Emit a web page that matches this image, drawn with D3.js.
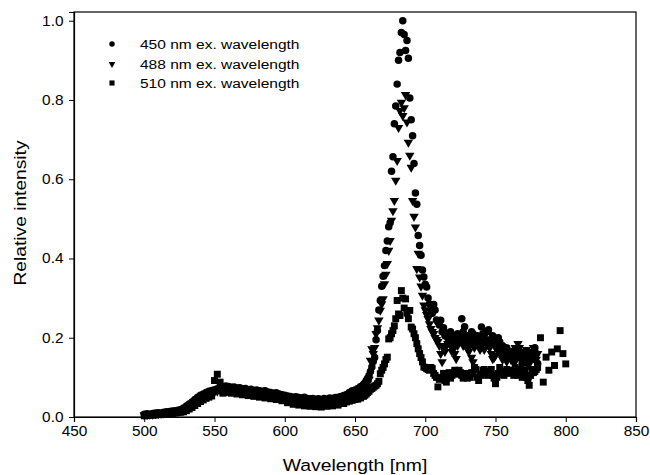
<!DOCTYPE html>
<html><head><meta charset="utf-8">
<script src="https://cdn.jsdelivr.net/npm/d3@7"></script>
<style>body{margin:0;background:#fff}svg{display:block}</style>
</head><body>
<svg id="c" width="650" height="475"></svg>
<script>
const wl = [
500,502,504,506,508,510,512,514,516,518,
520,522,524,526,528,530,532,534,536,538,
540,542,544,546,548,550,552,554,556,558,
560,562,564,566,568,570,572,574,576,578,
580,582,584,586,588,590,592,594,596,598,
600,602,604,606,608,610,612,614,616,618,
620,622,624,626,628,630,632,634,636,638,
640,642,644,646,648,650,
652,654,656,
657,658,659,660,661,662,663,664,665,666,
667,668,669,670,671,672,673,674,675,676,
677,678,679,680,681,682,683,684,685,686,
687,688,689,690,691,692,693,694,695,696,
697,698,699,700,701,702,703,704,705,706,
707,708,709,710,711,712,713,714,715,716,
717,718,719,720,721,722,723,724,725,726,
727,728,729,730,731,732,733,734,735,736,
737,738,739,740,741,742,743,744,745,746,
747,748,749,750,751,752,753,754,755,756,
757,758,759,760,761,762,763,764,765,766,
767,768,769,770,771,772,773,774,775,776,
777,778,779,780,
782,784,786,788,790,792,794,796,798,800];

const ex450 = [
0.007,0.008,0.007,0.009,0.010,0.011,0.010,0.012,0.013,0.014,
0.015,0.016,0.017,0.019,0.023,0.028,0.033,0.038,0.044,0.050,
0.055,0.058,0.062,0.065,0.067,0.069,0.071,0.074,0.076,0.078,
0.077,0.075,0.076,0.073,0.074,0.071,0.072,0.069,0.070,0.067,
0.068,0.066,0.065,0.066,0.063,0.062,0.060,0.061,0.058,0.056,
0.055,0.053,0.052,0.050,0.051,0.049,0.048,0.050,0.047,0.046,
0.047,0.045,0.046,0.044,0.047,0.045,0.048,0.047,0.049,0.050,
0.052,0.054,0.057,0.062,0.066,0.068,
0.072,0.077,0.082,
0.086,0.092,0.098,0.105,0.115,0.126,0.140,0.150,0.195,0.218,
0.270,0.294,0.330,0.355,0.382,0.420,0.444,0.480,0.490,0.620,
0.657,0.740,0.785,0.840,0.900,0.920,0.970,1.000,0.965,0.925,
0.950,0.905,0.805,0.750,0.710,0.640,0.565,0.537,0.458,0.433,
0.408,0.371,0.353,0.335,0.328,0.300,0.285,0.270,0.262,0.284,
0.270,0.245,0.240,0.232,0.244,0.215,0.225,0.205,0.212,0.200,
0.190,0.215,0.200,0.205,0.185,0.198,0.210,0.195,0.205,0.248,
0.215,0.228,0.200,0.205,0.185,0.195,0.215,0.210,0.200,0.190,
0.205,0.200,0.185,0.227,0.210,0.205,0.190,0.215,0.220,0.195,
0.185,0.205,0.200,0.185,0.175,0.200,0.190,0.170,0.180,0.165,
0.160,0.175,0.155,0.150,0.165,0.160,0.140,0.145,0.150,0.170,
0.155,0.150,0.135,0.140,0.160,0.155,0.145,0.160,0.150,0.145,
0.165,0.175,0.160,0.135,
null,null,null,null,null,null,null,null,null,null];

const ex488 = [
0.005,0.006,0.007,0.007,0.008,0.009,0.009,0.010,0.011,0.012,
0.013,0.013,0.015,0.016,0.019,0.022,0.027,0.031,0.036,0.041,
0.047,0.051,0.054,0.058,0.061,0.063,0.065,0.067,0.066,0.068,
0.067,0.068,0.066,0.065,0.066,0.063,0.064,0.062,0.061,0.060,
0.059,0.058,0.058,0.056,0.055,0.054,0.052,0.051,0.049,0.048,
0.046,0.045,0.043,0.042,0.041,0.040,0.041,0.039,0.038,0.038,
0.037,0.038,0.036,0.037,0.036,0.038,0.037,0.039,0.040,0.039,
0.041,0.043,0.044,0.046,0.048,0.051,
0.055,0.058,0.062,
0.068,0.075,0.085,0.095,0.143,0.172,0.160,0.175,0.210,0.225,
0.244,0.269,0.285,0.298,0.336,0.360,0.387,0.420,0.445,0.496,
0.520,0.546,0.597,0.647,0.730,0.773,0.794,0.760,0.780,0.813,
0.744,0.693,0.660,0.630,0.546,0.506,0.479,0.374,0.413,0.353,
0.330,0.307,0.282,0.270,0.258,0.248,0.235,0.223,0.215,0.210,
0.200,0.195,0.190,0.180,0.160,0.139,0.175,0.165,0.180,0.185,
0.195,0.180,0.165,0.172,0.160,0.147,0.180,0.190,0.200,0.195,
0.180,0.185,0.190,0.172,0.165,0.180,0.150,0.139,0.175,0.195,
0.190,0.185,0.170,0.180,0.195,0.170,0.185,0.190,0.180,0.175,
0.160,0.147,0.150,0.155,0.170,0.180,0.160,0.165,0.145,0.150,
0.155,0.140,0.150,0.160,0.145,0.150,0.165,0.175,0.170,0.185,
0.175,0.160,0.140,0.150,0.165,0.170,0.130,0.097,0.140,0.165,
0.175,0.150,0.145,0.160,
null,null,null,null,null,null,null,null,null,null];

const ex510 = [
0.003,0.004,0.004,0.005,0.005,0.006,0.006,0.007,0.008,0.009,
0.009,0.010,0.011,0.012,0.013,0.016,0.020,0.024,0.029,0.034,
0.039,0.043,0.047,0.050,0.053,0.092,0.108,0.088,0.060,0.064,
0.062,0.060,0.063,0.058,0.061,0.056,0.059,0.054,0.057,0.052,
0.055,0.050,0.053,0.048,0.051,0.046,0.049,0.044,0.046,0.041,
0.043,0.036,0.040,0.032,0.038,0.030,0.037,0.028,0.035,0.027,
0.034,0.026,0.033,0.025,0.034,0.027,0.035,0.028,0.036,0.030,
0.036,0.034,0.038,0.040,0.042,0.044,
0.045,0.048,0.052,
0.055,0.058,0.062,0.065,0.070,0.072,0.075,0.078,0.080,0.084,
0.090,0.109,0.118,0.125,0.134,0.145,0.151,0.197,0.200,0.210,
0.218,0.230,0.248,0.294,0.260,0.256,0.319,0.300,0.275,0.298,
0.262,0.248,0.269,0.227,0.222,0.210,0.200,0.185,0.172,0.160,
0.150,0.139,0.126,0.125,0.122,0.120,0.118,0.125,0.122,0.110,
0.105,0.100,0.076,0.095,0.098,0.100,0.110,0.092,0.088,0.105,
0.112,0.098,0.105,0.110,0.118,0.113,0.108,0.118,0.112,0.105,
0.098,0.102,0.110,0.098,0.105,0.100,0.112,0.110,0.125,0.120,
0.100,0.092,0.108,0.105,0.118,0.120,0.112,0.115,0.105,0.110,
0.120,0.105,0.098,0.084,0.100,0.110,0.125,0.115,0.108,0.105,
0.112,0.120,0.115,0.110,0.118,0.115,0.105,0.125,0.112,0.105,
0.120,0.120,0.100,0.110,0.118,0.100,0.092,0.080,0.105,0.120,
0.112,0.115,0.120,0.125,
0.200,0.088,0.151,0.118,0.164,0.130,0.172,0.218,0.160,0.134];

const seriesNames = ["450 nm ex. wavelength", "488 nm ex. wavelength", "510 nm ex. wavelength"];
const xTicks = [450,500,550,600,650,700,750,800,850];
const yTicks = [0,0.2,0.4,0.6,0.8,1.0];

(function(){
const svg = d3.select("#c");
const mL = 74, mR = 636, mT = 12, mB = 417;
const x = d3.scaleLinear().domain([450,850]).range([mL,mR]);
const y = d3.scaleLinear().domain([0,1.022]).range([mB,mT]);
const font = "'Liberation Sans', Arial, sans-serif";

const shapes = [
  {sym: d3.symbolCircle, size: 44, rot: 0},
  {sym: d3.symbolTriangle, size: 38, rot: 180},
  {sym: d3.symbolSquare, size: 48, rot: 0}
];
const data = [ex450, ex488, ex510];

data.forEach((vals, si) => {
  const pts = wl.map((w,i)=>({w, v: vals[i]})).filter(d => d.v !== null && d.v !== undefined);
  const sh = shapes[si];
  svg.append("g").selectAll("path").data(pts).join("path")
    .attr("d", d3.symbol().type(sh.sym).size(sh.size))
    .attr("transform", d => `translate(${x(d.w)},${y(d.v)}) rotate(${sh.rot})`)
    .attr("fill", "#000");
});

svg.append("rect").attr("x", mL).attr("y", mT).attr("width", mR-mL).attr("height", mB-mT)
  .attr("fill","none").attr("stroke","#000").attr("stroke-width",1.2);

const sx = 1.1;
const xa = svg.append("g").attr("transform", `translate(0,${mB})`)
  .call(d3.axisBottom(x).tickValues(xTicks).tickSize(5).tickPadding(4).tickFormat(d3.format("d")));
const ya = svg.append("g").attr("transform", `translate(${mL},0)`)
  .call(d3.axisLeft(y).tickValues(yTicks).tickSize(5).tickPadding(4).tickFormat(d3.format(".1f")));
[xa, ya].forEach(a => {
  a.select(".domain").attr("stroke","#000").attr("stroke-width",1.2);
  a.selectAll(".tick line").attr("stroke","#000");
  a.selectAll("text").attr("fill","#000").style("font-family", font).style("font-size","14px")
    .attr("transform", `scale(${sx},1)`);
});
ya.selectAll("text").attr("x", -10.5/sx);

svg.append("text").attr("transform", `translate(355,471) scale(1.14,1)`).attr("text-anchor","middle")
  .style("font-family", font).style("font-size","17px").text("Wavelength [nm]");
svg.append("text").attr("transform", `translate(26,213) rotate(-90) scale(1.13,1)`).attr("text-anchor","middle")
  .style("font-family", font).style("font-size","17px").text("Relative intensity");

const legY = [44, 64, 83];
const legendShapes = [
  {sym: d3.symbolCircle, size: 24, rot: 0},
  {sym: d3.symbolTriangle, size: 20, rot: 180},
  {sym: d3.symbolSquare, size: 26, rot: 0}
];
seriesNames.forEach((name, i) => {
  svg.append("path").attr("d", d3.symbol().type(legendShapes[i].sym).size(legendShapes[i].size))
    .attr("transform", `translate(112,${legY[i]}) rotate(${legendShapes[i].rot})`).attr("fill","#000");
  svg.append("text").attr("transform", `translate(140,${legY[i]+4.8}) scale(1.15,1)`)
    .style("font-family", font).style("font-size","13.5px").text(name);
});
})();
</script>
</body></html>
